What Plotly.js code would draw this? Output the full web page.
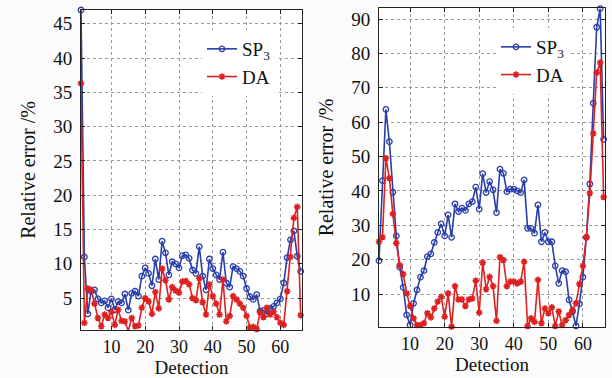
<!DOCTYPE html>
<html>
<head>
<meta charset="utf-8">
<script src="https://cdn.plot.ly/plotly-3.0.1.min.js"></script>
<style>html,body{margin:0;padding:0;background:#fbfbfb;}#chart{width:612px;height:378px;}</style>
</head>
<body>
<div id="chart"></div>
<script>
const detection = [1,2,3,4,5,6,7,8,9,10,11,12,13,14,15,16,17,18,19,20,21,22,23,24,25,26,27,28,29,30,31,32,33,34,35,36,37,38,39,40,41,42,43,44,45,46,47,48,49,50,51,52,53,54,55,56,57,58,59,60,61,62,63,64,65,66];

const leftSP3 = [47,11.0,2.7,6.0,6.2,4.9,4.3,4.6,3.6,4.9,3.3,4.5,4.3,5.6,3.25,5.7,6.0,5.3,8.2,9.4,8.6,6.8,10.7,7.7,13.3,11.6,8.4,10.3,10.0,9.4,11.2,11.3,10.8,9.1,8.6,12.5,8.2,6.2,10.7,9.3,8.4,7.7,11.7,7.2,6.6,9.6,9.3,8.9,8.2,6.4,5.2,4.8,5.5,3.1,3.2,2.7,3.5,3.8,4.3,4.9,7.2,10.9,13.5,14.8,11.1,8.9];
const leftDA = [36.3,1.4,6.4,6.2,4.2,2.1,0.9,2.6,2.1,3.0,1.1,3.3,1.7,1.6,0.2,2.1,0.9,1.0,3.6,5.0,4.5,2.7,5.9,3.5,9.3,7.6,4.8,6.6,6.1,5.8,7.4,7.5,7.0,5.0,4.7,7.9,4.4,2.6,7.0,5.3,4.2,2.6,7.7,1.6,2.4,5.3,4.8,4.2,3.6,2.4,0.7,0.8,0.5,2.9,2.2,3.6,2.6,3.0,2.2,1.4,1.1,6.0,11.0,16.7,18.3,2.5];

const rightSP3 = [19.7,43,63.7,54.3,39.6,26.9,17.8,11.9,3.9,1.0,7.3,11.2,14.9,16.8,20.9,21.7,25.0,27.9,30.4,26.9,33.0,26.5,36.2,34.0,35.0,34.3,36.2,36.9,41.1,34.7,45.0,39.5,42.7,40.3,33.7,46.3,45.1,39.8,40.5,40.5,40.0,39.5,43.2,29.1,29.1,27.7,35.9,25.2,27.9,25.2,25.2,18.2,13.1,16.8,16.5,8.3,4.9,0.7,7.1,14.9,26.5,42.0,65.5,87.6,93.0,55.0];
const rightDA = [25.2,26.5,49.5,43.7,33.3,24.8,18.4,15.8,10.2,6.5,2.9,1.0,1.0,1.5,4.4,3.2,5.8,7.8,9.2,3.4,10.2,0.5,12.3,8.4,8.4,6.5,8.4,8.7,13.9,4.6,19.1,11.4,15.0,12.3,2.2,20.7,19.9,12.3,13.6,13.6,13.1,13.6,19.4,0.7,2.9,1.9,14.1,1.5,5.8,4.4,6.1,0.7,4.9,1.0,2.4,3.9,5.3,7.3,12.9,18.2,26.5,39.3,56.7,74.4,77.3,38.2];

const xTicks = [10,20,30,40,50,60];
const leftYTicks = [5,10,15,20,25,30,35,40,45];
const rightYTicks = [10,20,30,40,50,60,70,80,90];

const seriesNames = ['SP<sub>3</sub>', 'DA'];

const BLUE = 'rgb(40,62,170)';
const RED = 'rgb(222,32,32)';
const FONT = 'Liberation Serif, Times New Roman, serif';

function sp3(x, y, xa, ya, leg) {
  return {x: x, y: y, xaxis: xa, yaxis: ya, legend: leg, name: seriesNames[0], type: 'scatter', mode: 'lines+markers',
    line: {color: BLUE, width: 1.6}, cliponaxis: false,
    marker: {symbol: 'circle-open', size: 5.5, color: BLUE, line: {width: 1.3, color: BLUE}}};
}
function da(x, y, xa, ya, leg) {
  return {x: x, y: y, xaxis: xa, yaxis: ya, legend: leg, name: seriesNames[1], type: 'scatter', mode: 'lines+markers',
    line: {color: RED, width: 1.6}, cliponaxis: false,
    marker: {symbol: 'asterisk-open', size: 5.5, color: RED, line: {width: 1.6, color: RED}}};
}

const traces = [
  sp3(detection, leftSP3, 'x', 'y', 'legend'),
  da(detection, leftDA, 'x', 'y', 'legend'),
  sp3(detection, rightSP3, 'x2', 'y2', 'legend2'),
  da(detection, rightDA, 'x2', 'y2', 'legend2')
];

const axisCommon = {
  showline: true, mirror: 'ticks', linecolor: '#222', linewidth: 1,
  ticks: 'inside', ticklen: 4, tickcolor: '#222',
  showgrid: true, gridcolor: '#9a9a9a', griddash: 'dot', gridwidth: 1,
  zeroline: false, tickfont: {family: FONT, size: 19, color: '#111'},
  ticklabelstandoff: 4
};
const xTickFont = {family: FONT, size: 18, color: '#111'};

const layout = {
  width: 612, height: 378,
  paper_bgcolor: '#fbfbfb', plot_bgcolor: '#ffffff',
  margin: {l: 0, r: 0, t: 0, b: 0},
  showlegend: true,
  font: {family: FONT, color: '#111'},
  xaxis: Object.assign({}, axisCommon, {domain: [81/612, 302/612], range: [1, 66.4], tickvals: xTicks, anchor: 'y',
    tickfont: xTickFont, ticklabelstandoff: 0,
    title: {text: 'Detection', font: {family: FONT, size: 19}, standoff: 0}}),
  yaxis: Object.assign({}, axisCommon, {domain: [48/378, 368/378], range: [0.35, 47], tickvals: leftYTicks, anchor: 'x',
    title: {text: 'Relative error /%', font: {family: FONT, size: 20}, standoff: 12}}),
  xaxis2: Object.assign({}, axisCommon, {domain: [379/612, 605/612], range: [1, 66.4], tickvals: xTicks, anchor: 'y2',
    tickfont: xTickFont, ticklabelstandoff: 0,
    title: {text: 'Detection', font: {family: FONT, size: 19}, standoff: 0}}),
  yaxis2: Object.assign({}, axisCommon, {domain: [51/378, 370/378], range: [0.4, 93.2], tickvals: rightYTicks, anchor: 'x2',
    title: {text: 'Relative error /%', font: {family: FONT, size: 20}, standoff: 12}}),
  legend: {x: 202/612, y: 348/378, xanchor: 'left', yanchor: 'top', bgcolor: '#ffffff', borderwidth: 0,
    font: {family: FONT, size: 19, color: '#111'}, tracegroupgap: 0},
  legend2: {x: 496/612, y: 350/378, xanchor: 'left', yanchor: 'top', bgcolor: '#ffffff', borderwidth: 0,
    font: {family: FONT, size: 19, color: '#111'}, tracegroupgap: 0}
};

Plotly.newPlot('chart', traces, layout, {displayModeBar: false, staticPlot: true});
</script>
</body>
</html>
